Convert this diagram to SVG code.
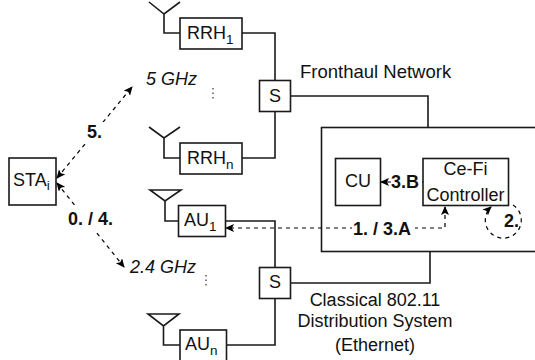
<svg xmlns="http://www.w3.org/2000/svg" width="535" height="360" viewBox="0 0 535 360">
<style>
.b{fill:#fff;stroke:#1a1a1a;stroke-width:1.6}
.w{fill:none;stroke:#1a1a1a;stroke-width:1.6}
.d{fill:none;stroke:#000;stroke-width:1.2;stroke-dasharray:4 4}
.h{fill:#000;stroke:none}
text{font-family:"Liberation Sans",Arial,sans-serif;font-size:18px;fill:#111}
.s{font-size:13.500px}
.m{text-anchor:middle}
.l{font-weight:bold}
.i{font-style:italic}
</style>
<defs>
<marker id="a" markerWidth="10" markerHeight="10" refX="8" refY="4" orient="auto-start-reverse" markerUnits="userSpaceOnUse"><path class="h" d="M0 0L9 4L0 8L2 4Z"/></marker>
</defs>
<g id="connectors">
<path class="w" d="M242 33H275V80M275 111V158H242M291 96H428V127M225 221H275V267M275 298V345H226M291 283H430V251"/>
<path class="w" d="M180 33H164V14M149 2L164 14L180 2M180 158H164V138M149 127L164 138L180 127"/>
<path class="w" d="M178 221H165V201M150 190H181L165 201ZM180 345H163.500V326M148 314H179L163.500 326Z"/>
</g>
<g id="big-box"><rect class="b" x="321.500" y="127.500" width="225" height="124"/></g>
<g id="rrh1"><rect class="b" x="180" y="18" width="62" height="31"/><text x="187" y="39">RRH<tspan class="s" dy="5">1</tspan></text></g>
<g id="rrhn"><rect class="b" x="180" y="143" width="62" height="31"/><text x="187" y="164">RRH<tspan class="s" dy="5">n</tspan></text></g>
<g id="s1"><rect class="b" x="259.500" y="80.500" width="31" height="31"/><text class="m" x="275" y="102">S</text></g>
<g id="s2"><rect class="b" x="259.500" y="267.500" width="31" height="31"/><text class="m" x="275" y="288">S</text></g>
<g id="au1"><rect class="b" x="178.500" y="205.500" width="47" height="31"/><text x="184" y="226">AU<tspan class="s" dy="5">1</tspan></text></g>
<g id="aun"><rect class="b" x="180" y="330" width="46.500" height="35"/><text x="185" y="350">AU<tspan class="s" dy="5">n</tspan></text></g>
<g id="sta"><rect class="b" x="9" y="158" width="47" height="47"/><text x="13" y="186">STA<tspan class="s" dy="4">i</tspan></text></g>
<g id="cu"><rect class="b" x="335.500" y="158.500" width="45" height="47"/><text class="m" x="358" y="187">CU</text></g>
<g id="controller"><rect class="b" x="423" y="158.500" width="85.500" height="47"/><text class="m" x="465.500" y="175">Ce-Fi</text><text class="m" x="465.500" y="201">Controller</text></g>
<g id="arrows">
<path class="d" d="M57 178L132 87" marker-end="url(#a)" marker-start="url(#a)"/>
<path class="d" d="M57 183L124 267" marker-end="url(#a)" marker-start="url(#a)"/>
<path class="d" d="M445 207V228H226" marker-end="url(#a)" marker-start="url(#a)"/>
<path class="d" d="M423 182H381" marker-end="url(#a)"/>
<path class="d" d="M513 205A18 18 0 1 1 491 207" stroke-dasharray="4 3" marker-end="url(#a)"/>
</g>
<g id="labels">
<rect x="86" y="122" width="18" height="20" fill="#fff"/>
<rect x="68" y="205" width="46" height="25" fill="#fff"/>
<rect x="352" y="220" width="63" height="18" fill="#fff"/>
<rect x="391" y="172" width="31" height="18" fill="#fff"/>
<text class="l" x="87" y="138">5.</text>
<text class="l" x="68" y="225">0. / 4.</text>
<text class="l" x="353" y="235">1. / 3.A</text>
<text class="l" x="391" y="188">3.B</text>
<text class="l" x="504" y="227">2.</text>
<text class="i" x="146" y="85">5 GHz</text>
<text class="i" x="130" y="273">2.4 GHz</text>
<text x="300" y="78" style="font-size:18.500px">Fronthaul Network</text>
<text class="m" x="375" y="306">Classical 802.11</text>
<text class="m" x="375" y="327">Distribution System</text>
<text class="m" x="375" y="351">(Ethernet)</text>
<path d="M213 88V101M206 275V288" stroke="#333" stroke-width="1.2" stroke-dasharray="1.500 3" fill="none"/>
</g>
</svg>
